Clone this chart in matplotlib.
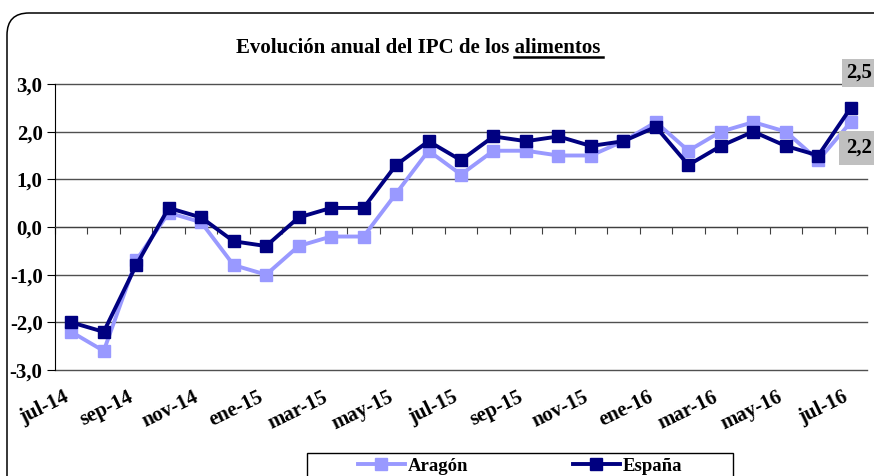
import numpy as np
import matplotlib
matplotlib.use("Agg")
import matplotlib.pyplot as plt
from matplotlib.patches import FancyBboxPatch, Rectangle
from matplotlib.lines import Line2D
from matplotlib.transforms import IdentityTransform, ScaledTranslation

# datos: IPC alimentos, variación anual (%)
months = ["jul-14", "ago-14", "sep-14", "oct-14", "nov-14", "dic-14",
          "ene-15", "feb-15", "mar-15", "abr-15", "may-15", "jun-15",
          "jul-15", "ago-15", "sep-15", "oct-15", "nov-15", "dic-15",
          "ene-16", "feb-16", "mar-16", "abr-16", "may-16", "jun-16", "jul-16"]
aragon = [-2.2, -2.6, -0.7, 0.3, 0.1, -0.8, -1.0, -0.4, -0.2, -0.2, 0.7, 1.6,
          1.1, 1.6, 1.6, 1.5, 1.5, 1.8, 2.2, 1.6, 2.0, 2.2, 2.0, 1.4, 2.2]
espana = [-2.0, -2.2, -0.8, 0.4, 0.2, -0.3, -0.4, 0.2, 0.4, 0.4, 1.3, 1.8,
          1.4, 1.9, 1.8, 1.9, 1.7, 1.8, 2.1, 1.3, 1.7, 2.0, 1.7, 1.5, 2.5]

plt.rcParams["font.family"] = ["Liberation Serif", "DejaVu Serif"]
plt.rcParams["font.weight"] = "bold"

col_ar = "#9999FF"
col_es = "#000080"
fs = 15

fig = plt.figure(figsize=(8.74, 4.76), dpi=100)
ax = fig.add_axes([55 / 874, 1 - 370 / 476, 812 / 874, 286 / 476])

x = np.arange(len(months))
ax.plot(x, aragon, color=col_ar, lw=2.8, marker="s", ms=8.5, label="Aragón", zorder=3)
ax.plot(x, espana, color=col_es, lw=2.8, marker="s", ms=8.5, label="España", zorder=4)

ax.set_xlim(-0.5, len(months) - 0.5)
ax.set_ylim(-3, 3)

# eje de categorías en y=0
for s in ["top", "right"]:
    ax.spines[s].set_visible(False)
ax.spines["bottom"].set_position(("data", 0))
ax.spines["bottom"].set_color("#404040")
ax.spines["left"].set_color("black")
ax.set_xticks(np.arange(-0.5, len(months), 1))
ax.tick_params(axis="x", length=5, direction="out", color="#404040", labelbottom=False)

yt = np.arange(-3, 4, 1)
ax.set_yticks(yt)
ax.set_yticklabels([f"{v:.1f}".replace(".", ",") for v in yt], fontsize=fs, fontweight="bold")
ax.tick_params(axis="y", length=6, direction="out", pad=3)
ax.grid(axis="y", color="#505050", lw=1)
for gl in ax.get_ygridlines():
    gl.set_clip_on(False)
ax.set_axisbelow(True)

# etiquetas de meses abajo
sec = ax.secondary_xaxis(0)
sec.set_xticks(x[::2])
sec.set_xticklabels(months[::2], rotation=26, ha="right", va="center",
                    rotation_mode="anchor", fontsize=15, fontweight="bold")
sec.tick_params(length=0, pad=19)
sec.spines["bottom"].set_visible(False)
shift = ScaledTranslation(-0.04, 0, fig.dpi_scale_trans)
for lab in sec.get_xticklabels():
    lab.set_transform(lab.get_transform() + shift)

# etiquetas del último dato (pegadas al borde derecho)
ax.annotate(f"{espana[-1]:.1f}".replace(".", ","), (x[-1], espana[-1]),
            xytext=(872, 476 - 73), textcoords="figure pixels", fontsize=fs,
            fontweight="bold", va="center", ha="right", annotation_clip=False,
            bbox=dict(boxstyle="square,pad=0.2", fc="#C0C0C0", ec="none"))
ax.annotate(f"{aragon[-1]:.1f}".replace(".", ","), (x[-1], aragon[-1]),
            xytext=(872, 476 - 148), textcoords="figure pixels", fontsize=fs,
            fontweight="bold", va="center", ha="right", annotation_clip=False,
            bbox=dict(boxstyle="square,pad=0.35", fc="#C0C0C0", ec="none"))

# título con "alimentos" subrayado
title = fig.text(0.478, 1 - 53 / 476, "Evolución anual del IPC de los alimentos",
                 ha="center", va="baseline", fontsize=fs, fontweight="bold")
fig.canvas.draw()
r = fig.canvas.get_renderer()
bb = title.get_window_extent(r)
tmp = fig.text(0, 0, "alimentos", fontsize=fs, fontweight="bold")
w = tmp.get_window_extent(r).width
tmp.remove()
yb = 476 - 57
fig.add_artist(Line2D([bb.x1 - w, bb.x1 + 3], [yb, yb], color="black", lw=1.8,
                      transform=IdentityTransform()))

# marco redondeado
frame = FancyBboxPatch((7, -40), 900, 476 - 13 + 40,
                       boxstyle="round,pad=0,rounding_size=22",
                       fc="none", ec="black", lw=1.1, transform=IdentityTransform())
fig.add_artist(frame)

# leyenda (caja cortada por el borde inferior, como en el original)
fig.add_artist(Rectangle((307, -10), 426, 476 - 453 + 10, fc="white", ec="black",
                         lw=1.0, transform=IdentityTransform()))
leg = fig.legend(handles=ax.get_lines(), loc="center",
                 bbox_to_anchor=(520 / 874, 1 - 466 / 476),
                 ncol=2, frameon=False, fontsize=13.5, handlelength=2.5,
                 handletextpad=0.15, columnspacing=5.6, borderpad=0, borderaxespad=0)
for t in leg.get_texts():
    t.set_fontweight("bold")

fig.savefig("out.png", dpi=100)
